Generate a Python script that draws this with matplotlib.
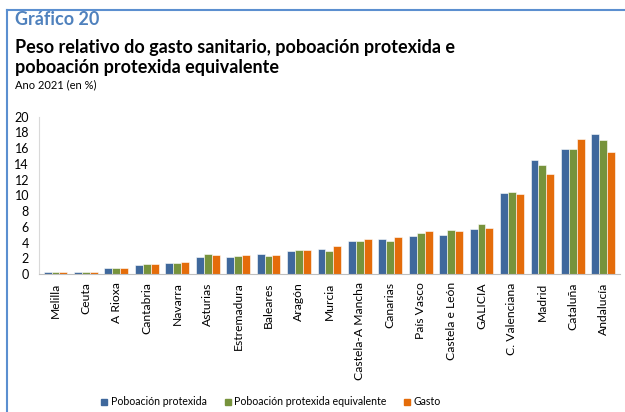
import matplotlib.pyplot as plt
import numpy as np
from matplotlib.lines import Line2D

plt.rcParams['font.family'] = ['Lato', 'DejaVu Sans']

regions = ['Melilla', 'Ceuta', 'A Rioxa', 'Cantabria', 'Navarra', 'Asturias',
           'Estremadura', 'Baleares', 'Aragón', 'Murcia', 'Castela-A Mancha',
           'Canarias', 'País Vasco', 'Castela e León', 'GALICIA', 'C. Valenciana',
           'Madrid', 'Cataluña', 'Andalucía']
poboacion = [0.2, 0.2, 0.7, 1.2, 1.35, 2.15, 2.2, 2.5, 2.9, 3.2, 4.2,
             4.5, 4.85, 5.0, 5.7, 10.25, 14.5, 15.9, 17.8]
equivalente = [0.2, 0.2, 0.8, 1.3, 1.4, 2.5, 2.3, 2.3, 3.0, 2.95, 4.2,
               4.25, 5.15, 5.6, 6.4, 10.4, 13.9, 15.9, 17.0]
gasto = [0.2, 0.2, 0.7, 1.3, 1.55, 2.4, 2.4, 2.4, 3.1, 3.5, 4.5,
         4.7, 5.5, 5.45, 5.85, 10.2, 12.65, 17.1, 15.5]

series = [('Poboación protexida', poboacion, '#3F689C'),
          ('Poboación protexida equivalente', equivalente, '#77933C'),
          ('Gasto', gasto, '#E46C0A')]

fig = plt.figure(figsize=(6.25, 4.12), dpi=100)
ax = fig.add_axes([0.062, 0.335, 0.93, 0.382])

x = np.arange(len(regions))
w = 0.26
for i, (name, vals, col) in enumerate(series):
    ax.bar(x + (i - 1) * w, vals, w, color=col, edgecolor='white', linewidth=0.4, label=name)

ax.set_xlim(-0.55, len(regions) - 0.45)
ax.set_ylim(0, 20)
ax.set_yticks(range(0, 21, 2))
ax.set_xticks(x)
ax.set_xticklabels(regions, rotation=90, fontsize=8.7)
ax.tick_params(axis='y', length=0, labelsize=9, pad=7)
ax.tick_params(axis='x', length=0, pad=6)
for s in ['top', 'right']:
    ax.spines[s].set_visible(False)
ax.spines['left'].set_color('#D9D9D9')
ax.spines['bottom'].set_color('#BFBFBF')

# legend
handles = [Line2D([], [], marker='s', linestyle='', color=c, markersize=5) for _, _, c in series]
fig.legend(handles, [s[0] for s in series], loc='center', bbox_to_anchor=(0.432, 0.025),
           ncol=3, frameon=False, fontsize=7.6, handletextpad=0.1, columnspacing=1.5,
           handlelength=1.0)

# titles
fig.text(0.024, 0.939, 'Gráfico 20', color='#4F81BD', fontsize=13, fontweight='bold')
fig.text(0.024, 0.871, 'Peso relativo do gasto sanitario, poboación protexida e', fontsize=13, fontweight='bold')
fig.text(0.024, 0.823, 'poboación protexida equivalente', fontsize=13, fontweight='bold')
fig.text(0.024, 0.786, 'Ano 2021 (en %)', fontsize=8)

# frame lines
fig.add_artist(Line2D([0.011, 0.011], [0.0, 0.976], color='#5B8FD0', lw=1.5))
fig.add_artist(Line2D([0.011, 1.0], [0.976, 0.976], color='#5B8FD0', lw=1.5))

fig.savefig('out.png', dpi=100)
